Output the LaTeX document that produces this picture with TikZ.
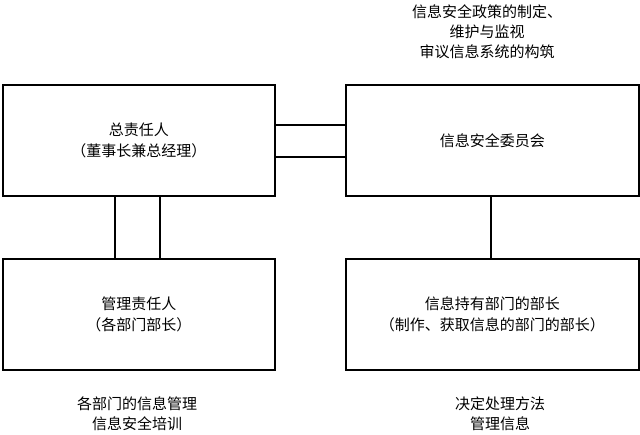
\documentclass[tikz,border=0pt]{standalone}
\usepackage{fontspec}
\setmainfont{Noto Sans CJK SC}
\begin{document}
\begin{tikzpicture}[x=1pt,y=-1pt,
  box/.style={draw=black,line width=1.5pt,minimum width=272pt,minimum height=111pt,anchor=north west,align=center,font=\fontsize{15}{21}\selectfont,inner sep=0pt},
  bigbox/.style={box,minimum width=293pt},
  lbl/.style={align=center,font=\fontsize{15}{20}\selectfont},
  con/.style={draw=black,line width=1.5pt}]
\useasboundingbox (0,0) rectangle (640,434);
\node[box] (a) at (2,84) {总责任人\\（董事长兼总经理）};
\node[bigbox] (b) at (345,84) {信息安全委员会};
\node[box] (c) at (2,258) {管理责任人\\（各部门部长）};
\node[bigbox] (d) at (345,258) {信息持有部门的部长\\（制作、获取信息的部门的部长）};
\draw[con] ([yshift=-41pt]a.north east) -- ([yshift=-41pt]b.north west);
\draw[con] ([yshift=-73pt]a.north east) -- ([yshift=-73pt]b.north west);
\draw[con] ([xshift=113pt]a.south west) -- ([xshift=113pt]c.north west);
\draw[con] ([xshift=158pt]a.south west) -- ([xshift=158pt]c.north west);
\draw[con] ([xshift=146pt]b.south west) -- ([xshift=146pt]d.north west);
\node[lbl] (t) at (487,32) {信息安全政策的制定、\\维护与监视\\审议信息系统的构筑};
\node[lbl] (l) at (137,414) {各部门的信息管理\\信息安全培训};
\node[lbl] (r) at (500,414) {决定处理方法\\管理信息};
\end{tikzpicture}
\end{document}
